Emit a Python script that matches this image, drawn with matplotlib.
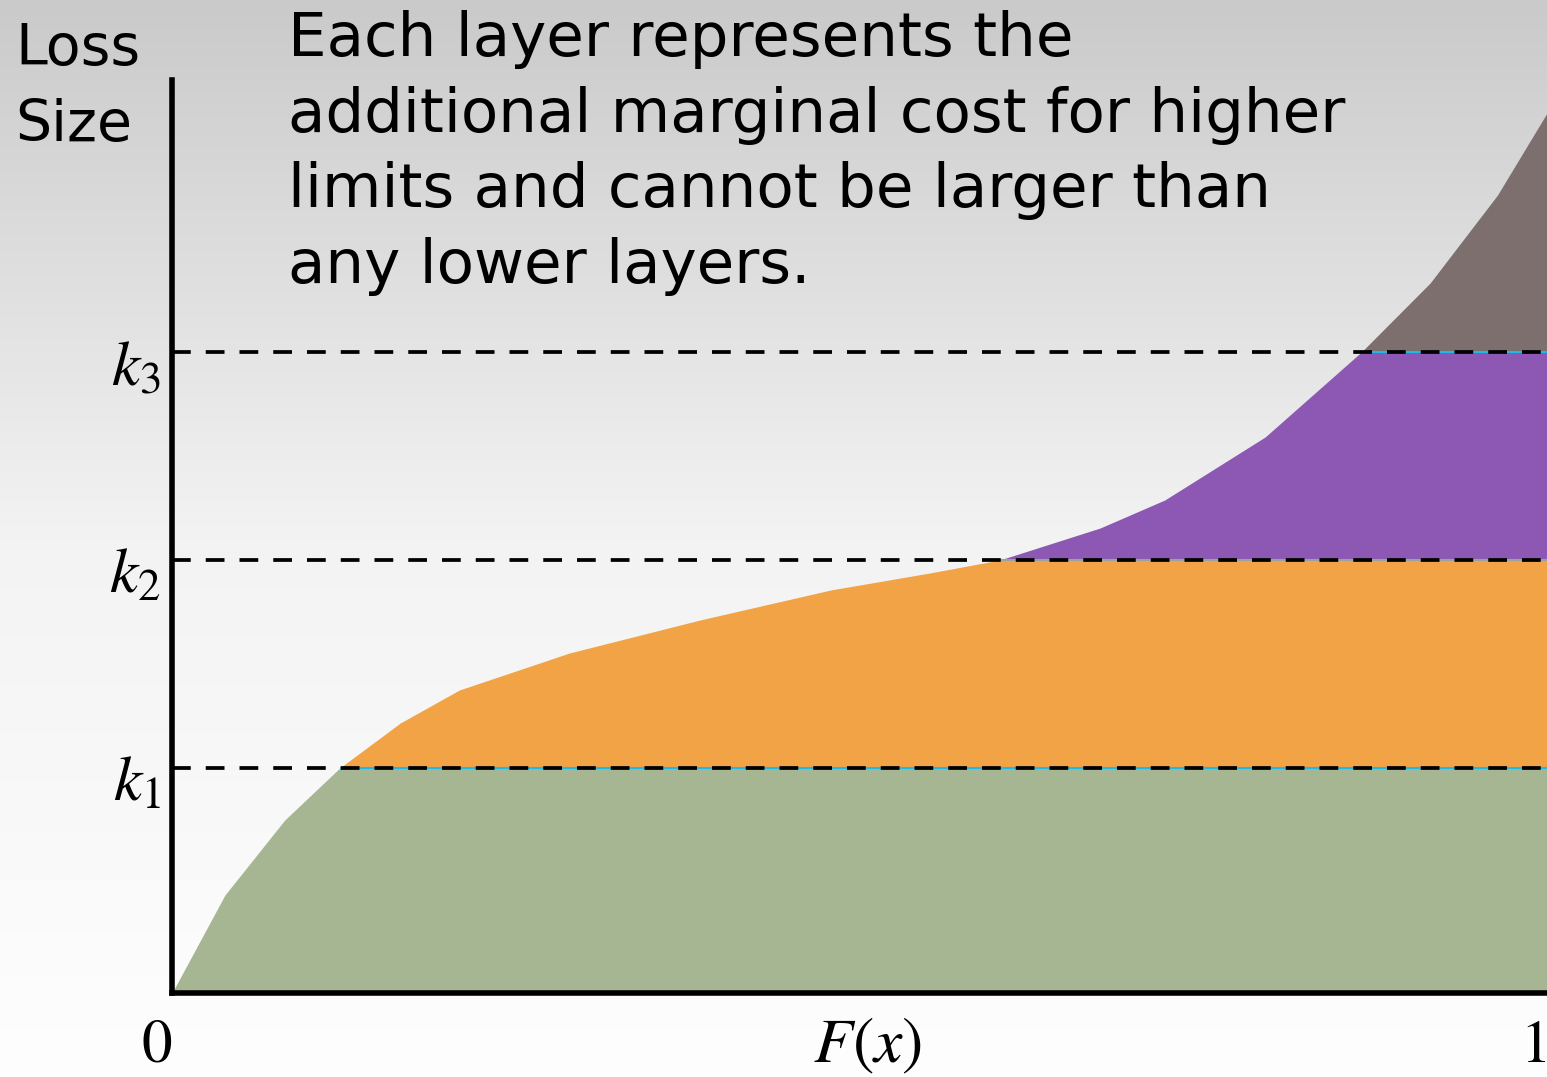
import numpy as np
import matplotlib
matplotlib.use("Agg")
import matplotlib.pyplot as plt
from matplotlib.colors import LinearSegmentedColormap

plt.rcParams["mathtext.fontset"] = "stix"
plt.rcParams["font.family"] = ["DejaVu Sans"]

# loss curve (quantile function)
F = [0.0, 0.0385, 0.082, 0.122, 0.166, 0.209, 0.289, 0.384, 0.479, 0.551,
     0.602, 0.675, 0.722, 0.795, 0.865, 0.915, 0.964, 1.0]
loss = [0.0, 0.98, 1.73, 2.25, 2.70, 3.03, 3.40, 3.73, 4.03, 4.20,
        4.33, 4.65, 4.93, 5.56, 6.41, 7.10, 7.98, 8.80]

limits = [2.25, 4.33, 6.41]
limit_labels = [r"$k_1$", r"$k_2$", r"$k_3$"]
edge_colors = ["#1fb8e8", "#a0a0a0", "#1fb8e8"]
layer_colors = ["#a6b592", "#f2a346", "#8c58b3", "#7d6f6e"]

W, H = 1547, 1077
fig = plt.figure(figsize=(W / 100, H / 100), dpi=100)

# gradient background
bg = fig.add_axes([0, 0, 1, 1], zorder=-2)
grad = np.linspace(0, 1, 256).reshape(-1, 1)
cmap = LinearSegmentedColormap.from_list("bg", ["#cacaca", "#f3f3f3", "#fefefe"])
bg.imshow(grad, aspect="auto", cmap=cmap, extent=[0, 1, 0, 1], origin="upper")
bg.set_axis_off()

ax = fig.add_axes([172 / W, (H - 993) / H, 1 - 172 / W, (993 - 80) / H])
ax.patch.set_alpha(0)
ax.set_xlim(0, 1)
ax.set_ylim(0, 9.13)

x = np.linspace(0, 1, 2001)
y = np.interp(x, F, loss)
bounds = [0.0] + limits + [np.inf]
for i, c in enumerate(layer_colors):
    lo, hi = bounds[i], bounds[i + 1]
    top = np.minimum(y, hi)
    ax.fill_between(x, lo, top, where=y > lo, color=c, lw=0, interpolate=True, zorder=1)

for k, ec in zip(limits, edge_colors):
    xc = np.interp(k, loss, F)
    ax.hlines(k, xc, 1, color=ec, lw=1.5, zorder=2)
    ax.axhline(k, color="black", lw=2.7, ls=(0, (5, 4)), zorder=3)

for s in ["top", "right"]:
    ax.spines[s].set_visible(False)
for s in ["left", "bottom"]:
    ax.spines[s].set_linewidth(4)
    ax.spines[s].set_zorder(4)

ax.set_xticks([])
ax.set_yticks([])

for k, lab in zip(limits, limit_labels):
    ax.text(-0.008, k - 0.15, lab, ha="right", va="center", fontsize=46)

ax.text(-0.011, -0.52, r"$0$", ha="center", va="center", fontsize=44)
ax.text(0.99, -0.52, r"$1$", ha="center", va="center", fontsize=44)
ax.text(0.506, -0.52, r"$F(x)$", ha="center", va="center", fontsize=46)

fig.text(15 / W, 1 - 22 / H, "Loss\nSize", ha="left", va="top", fontsize=41,
         linespacing=1.5)
fig.text(288 / W, 1 - 10 / H,
         "Each layer represents the\nadditional marginal cost for higher\n"
         "limits and cannot be larger than\nany lower layers.",
         ha="left", va="top", fontsize=44, linespacing=1.36)

fig.savefig("out.png", dpi=100)
